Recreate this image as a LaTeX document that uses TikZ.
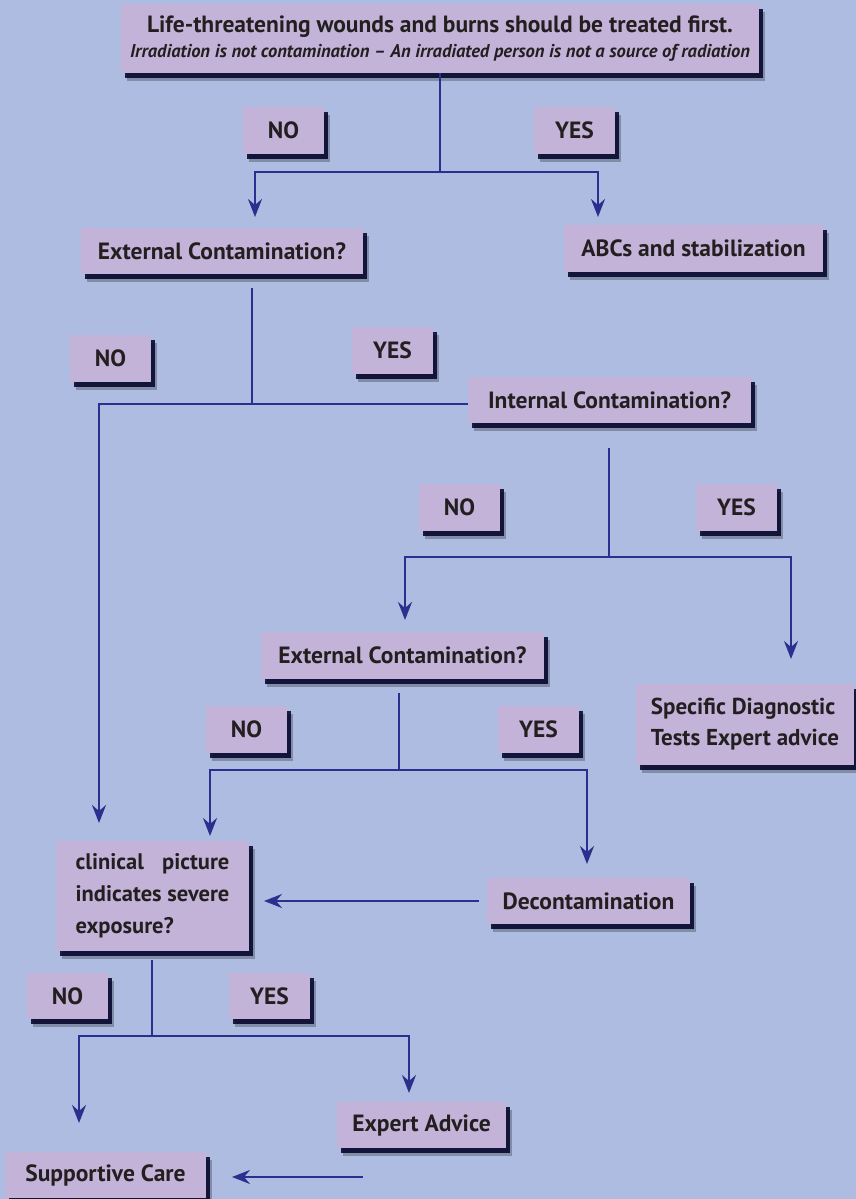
\documentclass[tikz,border=0pt]{standalone}
\usepackage{fontspec}
\usepackage{calc}
\setmainfont{PT Sans}
\usetikzlibrary{arrows.meta,shadows}
\definecolor{bg}{HTML}{ADBCE0}
\definecolor{boxc}{HTML}{C4B3D8}
\definecolor{linec}{HTML}{2B2F8E}
\definecolor{txt}{HTML}{231F20}
\begin{document}
\begin{tikzpicture}[x=1pt,y=-1pt,
  box/.style={fill=boxc, text=txt, font=\bfseries\fontsize{23.5}{28}\selectfont,
    inner sep=0pt, align=center,
    general shadow={fill=black, opacity=0.25, shadow xshift=6pt, shadow yshift=-8pt},
    general shadow={fill=black!85!blue, opacity=0.85, shadow xshift=4pt, shadow yshift=-5pt}},
  yn/.style={box, minimum width=81pt, minimum height=47pt},
  conn/.style={draw=linec, line width=2pt},
  arr/.style={conn, -{Stealth[length=18pt,width=14pt,inset=6pt]}}]
\fill[bg] (0,0) rectangle (856,1199);
\useasboundingbox (0,0) rectangle (856,1199);

% boxes
\node[box, minimum width=638pt, minimum height=69pt] (top) at (440,38.5)
  {Life-threatening wounds and burns should be treated first.\\[-3pt]
   {\itshape\fontsize{18.5}{21}\selectfont Irradiation is not contamination -- An irradiated person is not a source of radiation}};
\node[yn] (no1) at (283.5,130.5) {NO};
\node[yn] (yes1) at (574.5,130.5) {YES};
\node[box, minimum width=282pt, minimum height=46pt] (ext1) at (222,251) {External Contamination?};
\node[box, minimum width=259pt, minimum height=47pt] (abc) at (693.5,248.5) {ABCs and stabilization};
\node[yn] (no2) at (110.5,358.5) {NO};
\node[yn] (yes2) at (392.5,350.5) {YES};
\node[box, minimum width=283pt, minimum height=46pt] (int) at (609.5,400) {Internal Contamination?};
\node[yn] (no3) at (459.5,507.5) {NO};
\node[yn] (yes3) at (736.5,507.5) {YES};
\node[box, minimum width=283pt, minimum height=47pt] (ext2) at (402.5,655.5) {External Contamination?};
\node[box, minimum width=218pt, minimum height=81pt, align=left,
  font=\bfseries\fontsize{23}{31}\selectfont] (spec) at (745,724.5)
  {Specific Diagnostic\\Tests Expert advice};
\node[yn] (no4) at (246.5,729.5) {NO};
\node[yn] (yes4) at (538.5,729.5) {YES};
\node[box, minimum width=193pt, minimum height=110pt, align=left,
  font=\bfseries\fontsize{22.5}{32}\selectfont] (clin) at (152.5,896)
  {\makebox[\widthof{indicates severe}][s]{clinical picture}\\indicates severe\\exposure?};
\node[box, minimum width=203pt, minimum height=46pt] (decon) at (588.5,901) {Decontamination};
\node[yn, minimum height=46pt] (no5) at (67.5,996) {NO};
\node[yn, minimum height=46pt] (yes5) at (269.5,996) {YES};
\node[box, minimum width=169pt, minimum height=46pt] (expert) at (421.5,1125) {Expert Advice};
\node[box, minimum width=201pt, minimum height=46pt] (supp) at (105.5,1175) {Supportive Care};

% junctions and free ends
\coordinate (j1) at (440,172);
\coordinate (a1L) at (255,217);
\coordinate (a1R) at (598,217);
\coordinate (s2) at (252,288);
\coordinate (j2) at (252,404);
\coordinate (a2) at (99,823);
\coordinate (s3) at (609,448);
\coordinate (j3) at (609,557);
\coordinate (a3L) at (405,620);
\coordinate (a3R) at (791,659);
\coordinate (s4) at (399,693);
\coordinate (j4) at (399,770);
\coordinate (a4L) at (210,836);
\coordinate (a4R) at (587,864);
\coordinate (d1) at (479,901);
\coordinate (c1) at (264,901);
\coordinate (s5) at (152,960);
\coordinate (j5) at (152,1036);
\coordinate (a5L) at (79,1123);
\coordinate (a5R) at (409,1093);
\coordinate (e1) at (363,1177);
\coordinate (e2) at (232,1177);

% connectors
\draw[conn] (top.south) -- (j1);
\draw[arr] (j1) -| (a1L);
\draw[arr] (j1) -| (a1R);
\draw[conn] (s2) -- (j2) -- (j2 -| int.west);
\draw[arr] (j2) -| (a2);
\draw[conn] (s3) -- (j3);
\draw[arr] (j3) -| (a3L);
\draw[arr] (j3) -| (a3R);
\draw[conn] (s4) -- (j4);
\draw[arr] (j4) -| (a4L);
\draw[arr] (j4) -| (a4R);
\draw[arr] (d1) -- (c1);
\draw[conn] (s5) -- (j5);
\draw[arr] (j5) -| (a5L);
\draw[arr] (j5) -| (a5R);
\draw[arr] (e1) -- (e2);
\end{tikzpicture}
\end{document}
